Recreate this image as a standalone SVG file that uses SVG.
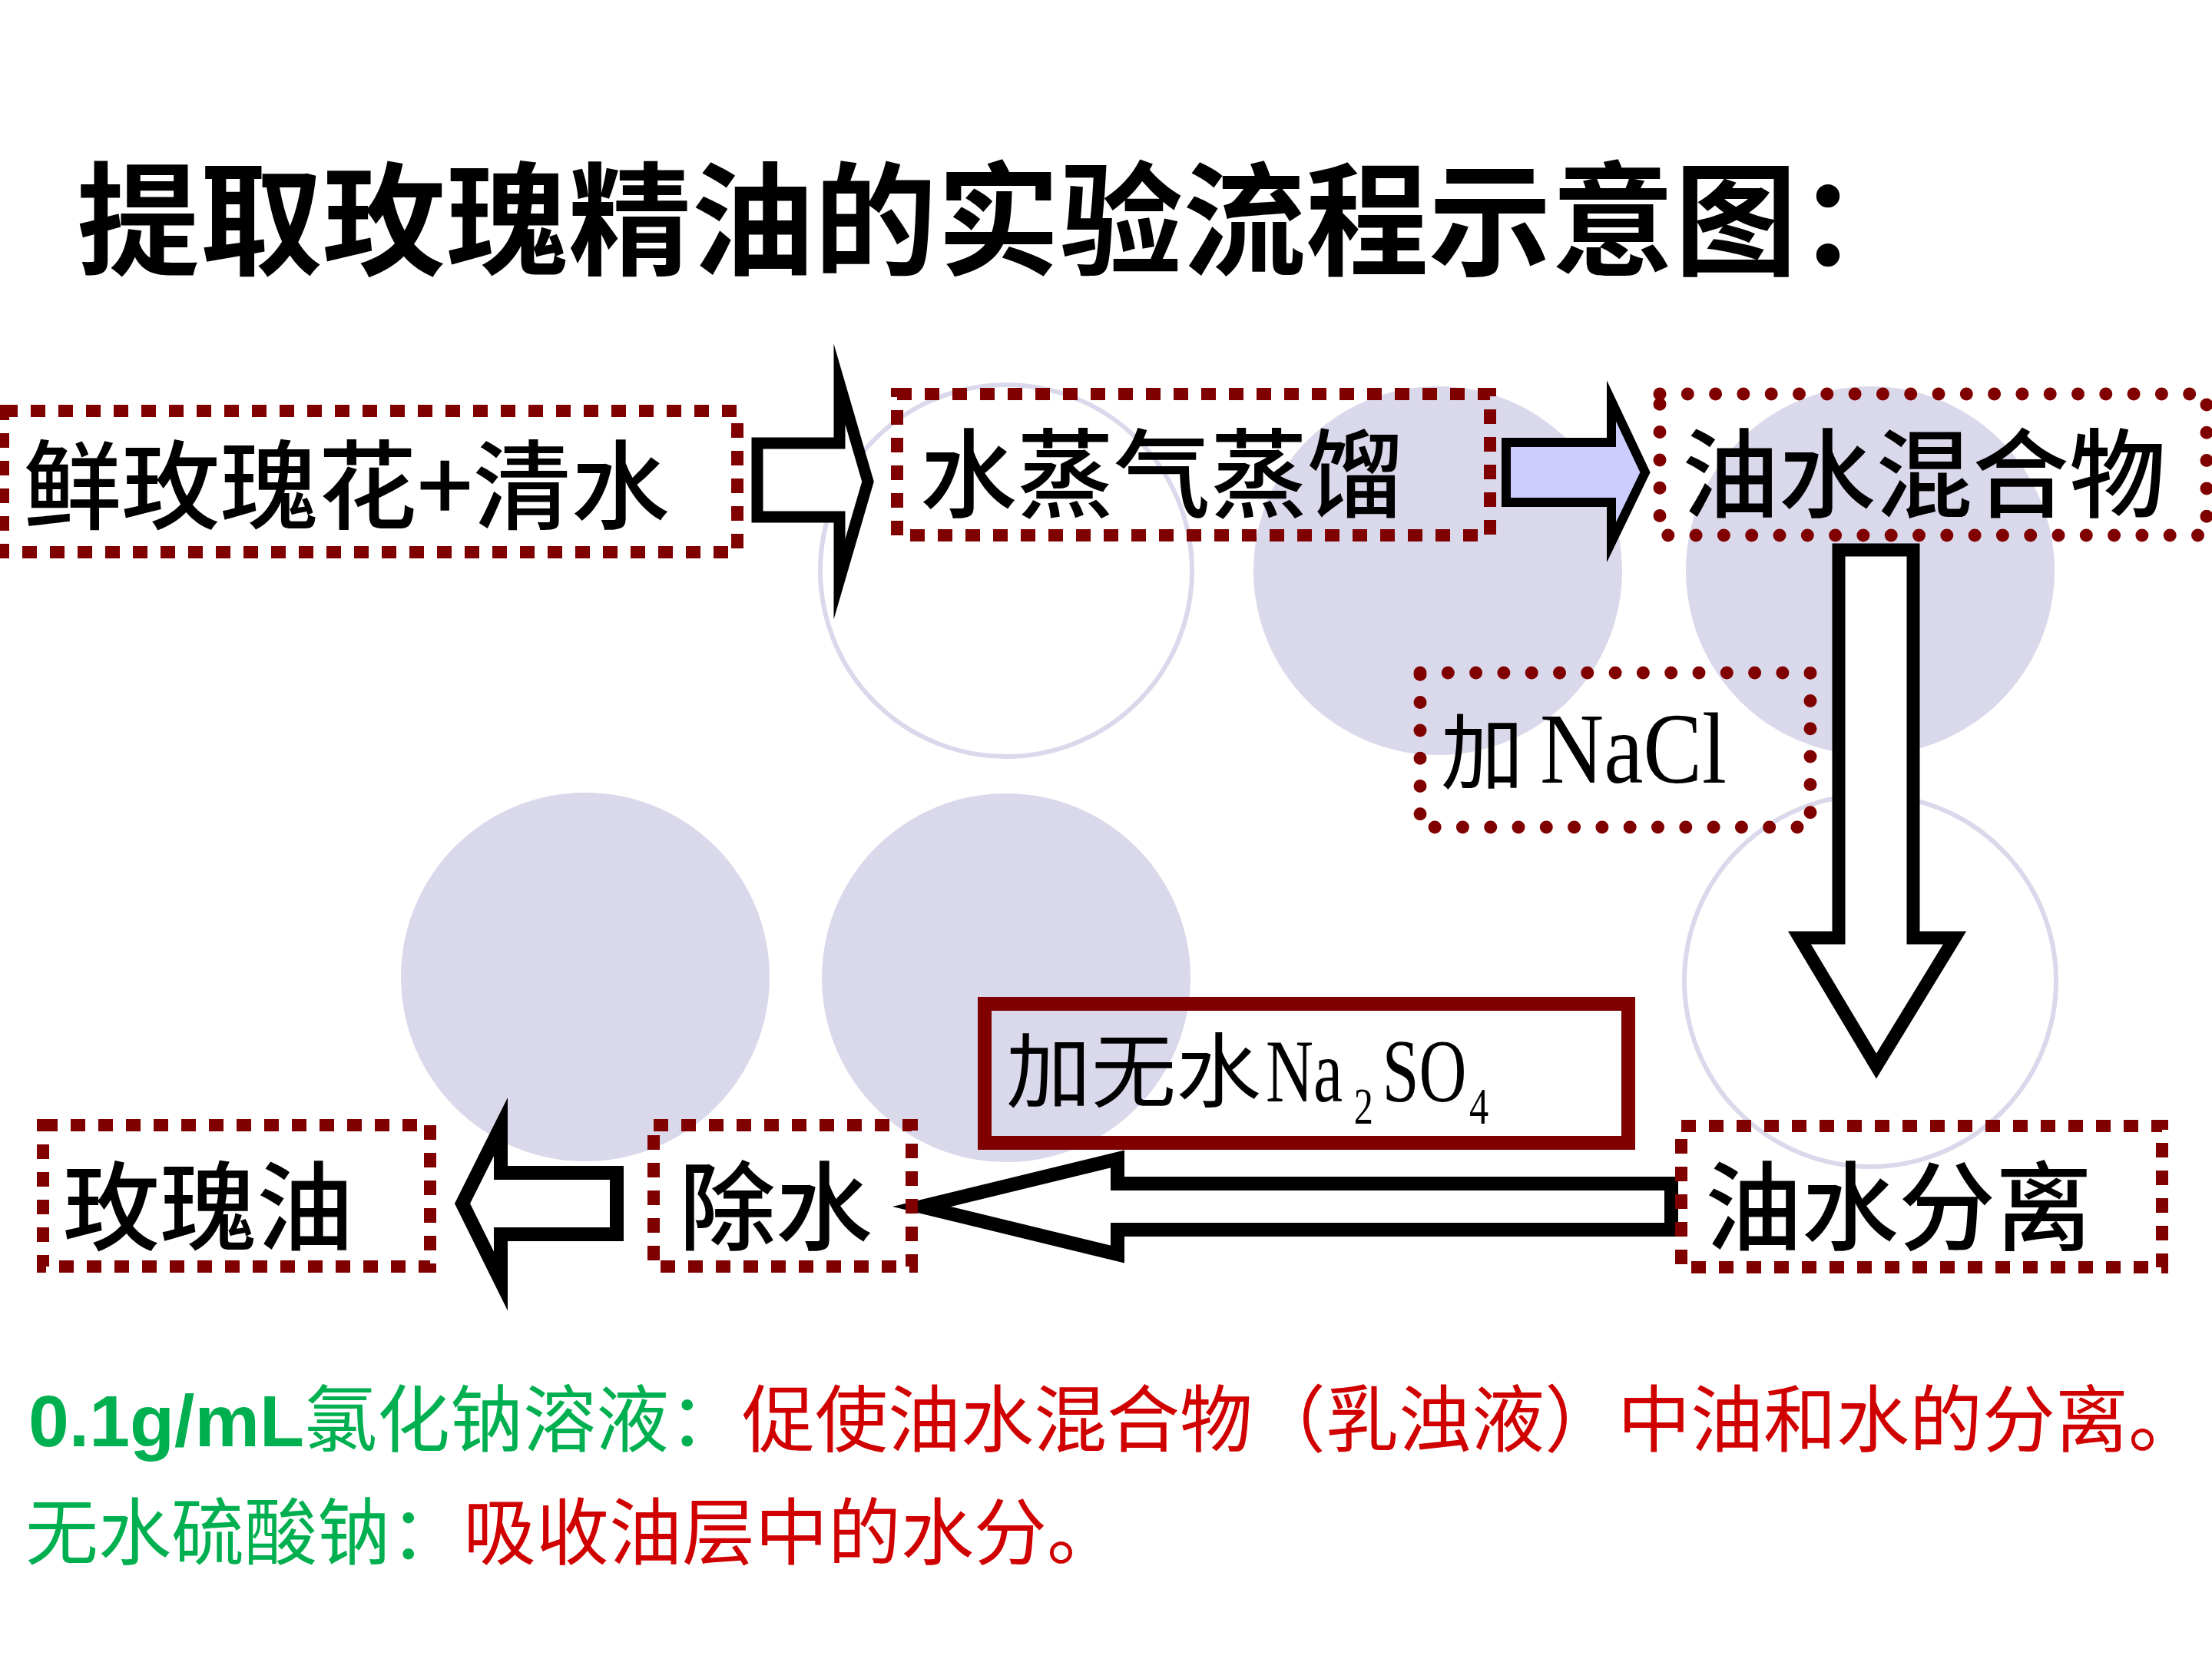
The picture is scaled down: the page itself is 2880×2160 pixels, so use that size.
<svg xmlns="http://www.w3.org/2000/svg" width="2880" height="2160" viewBox="0 0 2880 2160">
<style>
.bgf{fill:#D9D9EB;stroke:none}
.bgo{fill:none;stroke:#D9D9EB;stroke-width:6}
.dash{fill:none;stroke:#800000;stroke-width:16;stroke-dasharray:19 17}
.dot{fill:none;stroke:#800000;stroke-width:17;stroke-dasharray:0 36.3;stroke-linecap:round}
.solid{fill:none;stroke:#800000;stroke-width:18}
.arr{fill:#FFFFFF;stroke:#000000;stroke-linejoin:miter;stroke-miterlimit:12}
.cjk{font-family:"Noto Sans CJK SC",sans-serif;fill:#000}
.lbl{font-family:"Noto Sans CJK SC",sans-serif;font-size:126px;font-weight:500;fill:#000}
.lat{font-family:"Liberation Serif","Times New Roman",serif;fill:#000}
.note{font-family:"Noto Sans CJK SC",sans-serif;font-size:95px}
.g{fill:#00B050}
.r{fill:#D00000}
</style>
<rect width="2880" height="2160" fill="#FFFFFF"/>
<g id="background">
<circle class="bgo" cx="1310" cy="743" r="242"/>
<circle class="bgf" cx="1872" cy="743" r="240"/>
<circle class="bgf" cx="2435" cy="743" r="240"/>
<circle class="bgf" cx="762" cy="1272" r="240"/>
<circle class="bgf" cx="1310" cy="1273" r="240"/>
<circle class="bgo" cx="2435" cy="1277" r="242"/>
</g>
<g id="title">
<text x="100" y="346" class="cjk" font-size="160" font-weight="700">提取玫瑰精油的实验流程示意图：</text>
</g>
<g id="connectors">
<path class="arr" stroke-width="15" d="M986 577 H1093 V500 L1130 627 L1093 754 V673 H986 Z"/>
<path class="arr" stroke-width="12" style="fill:#CCCCFF" d="M1961 576 H2098 V522 L2142 615 L2098 706 V654 H1961 Z"/>
<path class="arr" stroke-width="17" d="M2394 716 H2491 V1221 H2545 L2443 1388 L2343 1221 H2394 Z"/>
<path class="arr" stroke-width="18" d="M2176 1541 H1455 V1509 L1200 1571 L1455 1633 V1601 H2176 Z"/>
<path class="arr" stroke-width="18" d="M803 1527 H652 V1467 L602 1567 L652 1668 V1607 H803 Z"/>
</g>
<g id="node-rose-water">
<rect class="dash" x="4" y="535" width="956" height="184"/>
<text x="30" y="679" class="lbl" textLength="842" lengthAdjust="spacingAndGlyphs">鲜玫瑰花+清水</text>
</g>
<g id="node-steam-distillation">
<rect class="dash" x="1168" y="513" width="772" height="184"/>
<text x="1198" y="664" class="lbl">水蒸气蒸馏</text>
</g>
<g id="node-oil-water-mixture">
<rect class="dot" x="2161" y="513" width="712" height="184"/>
<text x="2190" y="664" class="lbl">油水混合物</text>
</g>
<g id="node-add-nacl">
<rect class="dot" x="1849" y="876" width="508" height="201"/>
<text x="1876" y="1019" class="cjk" font-size="108">加</text>
<text x="2005" y="1019" class="lat" font-size="131" textLength="243" lengthAdjust="spacingAndGlyphs">NaCl</text>
</g>
<g id="node-add-na2so4">
<rect class="solid" x="1282" y="1307" width="838" height="181"/>
<text x="1310" y="1433" class="cjk" font-size="106" textLength="332" lengthAdjust="spacingAndGlyphs">加无水</text>
<text class="lat" font-size="116" transform="translate(1648,1434) scale(0.74,1)"><tspan x="0" y="0">Na</tspan><tspan x="155" y="29" font-size="68">2</tspan><tspan x="205" y="0">SO</tspan><tspan x="358" y="29" font-size="68">4</tspan></text>
</g>
<g id="node-separation">
<rect class="dash" x="2189" y="1466" width="626" height="184"/>
<text x="2220" y="1618" class="lbl">油水分离</text>
</g>
<g id="node-remove-water">
<rect class="dash" x="851" y="1465" width="336" height="184"/>
<text x="884" y="1618" class="lbl">除水</text>
</g>
<g id="node-rose-oil">
<rect class="dash" x="56" y="1465" width="504" height="184"/>
<text x="82" y="1618" class="lbl">玫瑰油</text>
</g>
<g id="notes">
<text x="37" y="1883" class="note"><tspan class="g" font-family="Liberation Sans,Arial,sans-serif" font-weight="bold">0.1g/mL</tspan><tspan class="g">氯化钠溶液：</tspan><tspan class="r">促使油水混合物（乳浊液）中油和水的分离。</tspan></text>
<text x="33" y="2030" class="note"><tspan class="g">无水硫酸钠：</tspan><tspan class="r">吸收油层中的水分。</tspan></text>
</g>
</svg>
